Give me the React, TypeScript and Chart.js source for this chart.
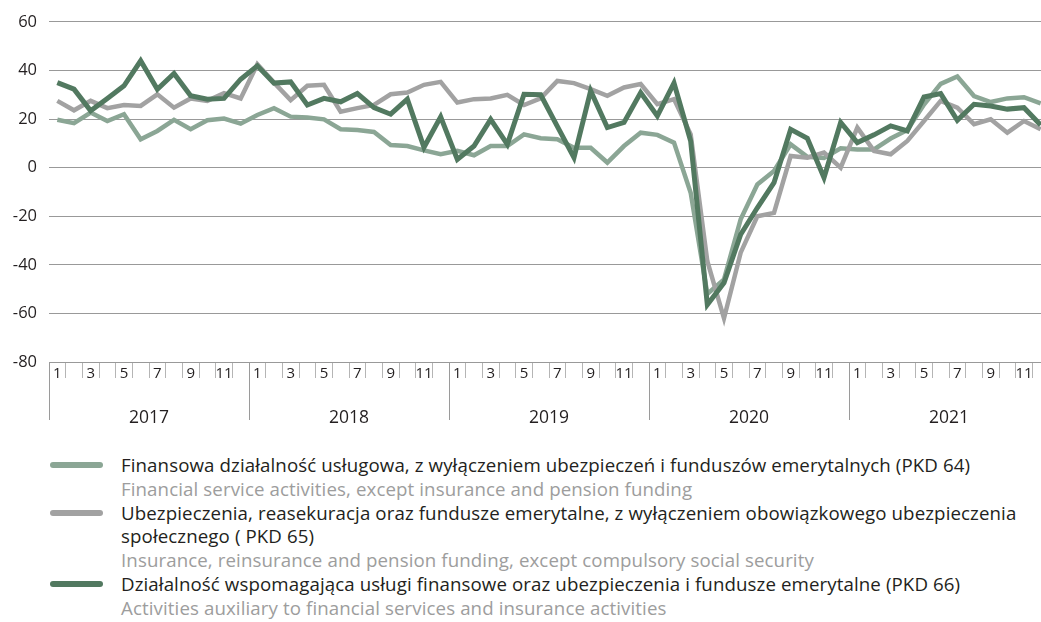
import React, { useEffect, useRef } from 'react';
import { Chart, registerables } from 'chart.js';

Chart.register(...registerables);

const years = ['2017', '2018', '2019', '2020', '2021'];
const months = ['1', '2', '3', '4', '5', '6', '7', '8', '9', '10', '11', '12'];
const categories = years.flatMap(() => months);

const yTickMin = -80;
const yTickMax = 60;
const yTickStep = 20;

const pkd64 = [
  19.7, 18.3, 22.7, 19.2, 22, 11.7, 15.1, 19.7, 15.8, 19.5, 20.2, 18.1,
  21.7, 24.5, 21, 20.6, 19.9, 15.8, 15.5, 14.7, 9.3, 8.9, 7.1, 5.5,
  6.9, 5.1, 8.9, 8.9, 13.7, 12.1, 11.7, 8.2, 8.2, 2.1, 8.9, 14.4,
  13.5, 10.3, -10.3, -52, -46, -21.3, -6.9, -1.4, 9.6, 4.5, 4, 8,
  7.5, 7.5, 12, 15.5, 26, 34.5, 37.5, 29.5, 27, 28.5, 29, 26.5,
];
const pkd65 = [
  27.5, 23.6, 27.5, 24.5, 25.8, 25.4, 30.2, 24.7, 28.5, 27.5, 30.7, 28.5,
  42.6, 35, 27.8, 33.7, 34.1, 23, 24.5, 25.8, 30.2, 30.9, 34.1, 35.3,
  26.8, 28.2, 28.5, 30, 25.8, 28.5, 35.7, 34.8, 32.3, 29.6, 33, 34.4,
  26.1, 28.2, 13.7, -38.5, -62, -35, -20, -18.6, 4.8, 4.1, 6.2, 0,
  16.5, 6.9, 5.5, 11, 19.2, 27.5, 24.7, 17.9, 19.9, 14.4, 19.2, 15.8,
];
const pkd66 = [
  35, 32.3, 23.4, 28.5, 33.7, 44, 32.3, 38.8, 29.6, 28.2, 28.5, 36.4,
  41.9, 34.8, 35.3, 25.8, 28.5, 27.1, 30.5, 24.7, 22, 28.2, 8.4, 20.9,
  3.4, 8.9, 19.9, 9.6, 30.2, 30, 17, 4.1, 31.6, 16.5, 18.6, 30.9,
  21.3, 34.8, 11, -56.4, -47.4, -27.5, -16.5, -6.2, 15.8, 12.1, -4.1, 18.6,
  10.3, 13.5, 17.2, 15.1, 29.1, 30.5, 19.5, 26.1, 25.4, 24.1, 24.7, 17.6,
];

const legendItems = [
  {
    color: '#8ba695',
    pl: ['Finansowa działalność usługowa, z wyłączeniem ubezpieczeń i funduszów emerytalnych (PKD 64)'],
    en: 'Financial service activities, except insurance and pension funding',
  },
  {
    color: '#a2a2a2',
    pl: [
      'Ubezpieczenia, reasekuracja oraz fundusze emerytalne, z wyłączeniem obowiązkowego ubezpieczenia',
      'społecznego ( PKD 65)',
    ],
    en: 'Insurance, reinsurance and pension funding, except compulsory social security',
  },
  {
    color: '#527960',
    pl: ['Działalność wspomagająca usługi finansowe oraz ubezpieczenia i fundusze emerytalne (PKD 66)'],
    en: 'Activities auxiliary to financial services and insurance activities',
  },
];

const FONT = '"Open Sans", "Noto Sans", sans-serif';
const TEXT = '#231f20';

const yearAxisPlugin = {
  id: 'yearAxis',
  afterDraw(chart: any) {
    const xs = chart.scales.x;
    const area = chart.chartArea;
    const ctx = chart.ctx;
    const step = xs.getPixelForValue(1) - xs.getPixelForValue(0);
    ctx.save();
    ctx.strokeStyle = '#9a9a9a';
    ctx.lineWidth = 1;
    ctx.fillStyle = TEXT;
    ctx.font = `17.5px ${FONT}`;
    ctx.textAlign = 'center';
    ctx.textBaseline = 'middle';
    years.forEach((yr, k) => {
      const first = xs.getPixelForValue(k * 12);
      const last = xs.getPixelForValue(k * 12 + 11);
      const left = Math.round(first - step / 2) + 0.5;
      ctx.beginPath();
      ctx.moveTo(left, area.bottom);
      ctx.lineTo(left, area.bottom + 58);
      ctx.stroke();
      ctx.fillText(yr, (first + last) / 2, area.bottom + 56);
    });
    ctx.restore();
  },
};

function LineChart() {
  const ref = useRef<HTMLCanvasElement | null>(null);
  useEffect(() => {
    if (!ref.current) return;
    const chart = new Chart(ref.current, {
      type: 'line',
      data: {
        labels: categories,
        datasets: [
          {
            label: 'PKD 64',
            data: pkd64,
            borderColor: legendItems[0].color,
            borderWidth: 4.5,
            pointRadius: 0,
            tension: 0,
            order: 2,
          },
          {
            label: 'PKD 65',
            data: pkd65,
            borderColor: legendItems[1].color,
            borderWidth: 4.5,
            pointRadius: 0,
            tension: 0,
            order: 1,
          },
          {
            label: 'PKD 66',
            data: pkd66,
            borderColor: legendItems[2].color,
            borderWidth: 5,
            pointRadius: 0,
            tension: 0,
            order: 0,
          },
        ],
      },
      options: {
        animation: false,
        responsive: false,
        devicePixelRatio: 1,
        layout: { padding: { top: 21, right: 0, left: 0, bottom: 0 } },
        plugins: { legend: { display: false }, tooltip: { enabled: false } },
        scales: {
          x: {
            type: 'category',
            offset: true,
            border: { display: false },
            grid: {
              offset: true,
              drawOnChartArea: false,
              drawTicks: true,
              tickLength: 16,
              color: '#b5b5b5',
              lineWidth: 1,
            },
            ticks: {
              autoSkip: false,
              maxRotation: 0,
              minRotation: 0,
              padding: -13,
              color: TEXT,
              font: { family: FONT, size: 15 },
              callback: (_v: any, i: number) => (i % 2 === 0 ? categories[i] : ''),
            },
            afterFit: (s: any) => {
              s.height = 68;
            },
          },
          y: {
            min: yTickMin,
            max: yTickMax,
            border: { display: false },
            grid: { color: '#999999', lineWidth: 1, drawTicks: false },
            ticks: {
              stepSize: yTickStep,
              padding: 12,
              color: TEXT,
              font: { family: FONT, size: 16.5 },
            },
            afterFit: (s: any) => {
              s.width = 49;
            },
          },
        },
      },
      plugins: [yearAxisPlugin],
    });
    return () => chart.destroy();
  }, []);
  return <canvas ref={ref} width={1049} height={430} style={{ display: 'block' }} />;
}

export default function App() {
  return (
    <div
      style={{
        position: 'fixed',
        left: 0,
        top: 0,
        width: 1041,
        height: 622,
        overflow: 'hidden',
        background: '#fff',
        fontFamily: FONT,
      }}
    >
      <div style={{ position: 'absolute', left: 0, top: 0 }}>
        <LineChart />
      </div>
      <div
        style={{
          position: 'absolute',
          left: 0,
          top: 453,
          width: 1041,
          fontSize: 18.7,
          letterSpacing: '0.1px',
          lineHeight: '23.8px',
        }}
      >
        {legendItems.map((it, idx) => (
          <div key={idx} style={{ position: 'relative', paddingLeft: 121 }}>
            <div
              style={{
                position: 'absolute',
                left: 50,
                top: 9,
                width: 53,
                height: 6,
                borderRadius: 3,
                background: it.color,
              }}
            />
            {it.pl.map((t, j) => (
              <div key={j} style={{ color: TEXT, whiteSpace: 'nowrap' }}>{t}</div>
            ))}
            <div style={{ color: '#9d9d9d', whiteSpace: 'nowrap' }}>{it.en}</div>
          </div>
        ))}
      </div>
    </div>
  );
}
